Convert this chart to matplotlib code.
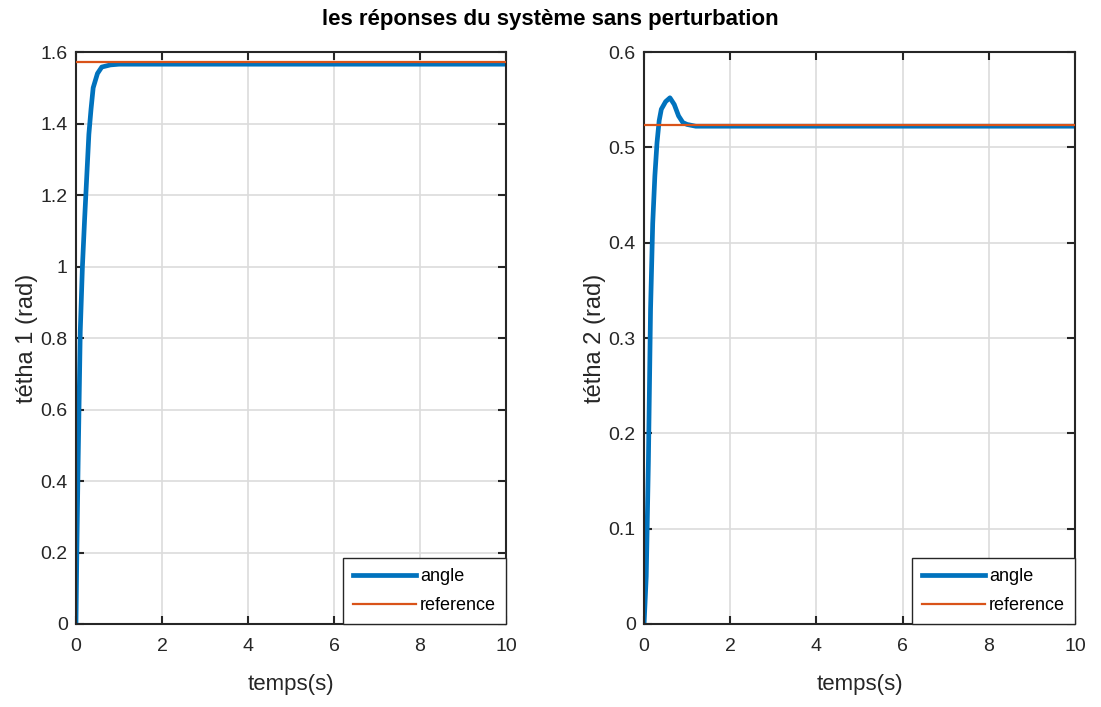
import matplotlib
matplotlib.use("Agg")
import matplotlib.pyplot as plt
import numpy as np

plt.rcParams['font.family'] = ['Liberation Sans', 'DejaVu Sans']

# tetha 1 response (rad)
t1 = [0, 0.02, 0.05, 0.1, 0.15, 0.2, 0.25, 0.3, 0.35, 0.4, 0.5, 0.6, 0.8, 1.0, 10]
y1 = [0, 0.2, 0.45, 0.82, 1.0, 1.13, 1.25, 1.37, 1.44, 1.5, 1.54, 1.558, 1.564, 1.566, 1.566]
ref1 = 1.5708

# tetha 2 response (rad)
t2 = [0, 0.05, 0.1, 0.15, 0.2, 0.25, 0.3, 0.35, 0.4, 0.5, 0.6, 0.7, 0.8, 0.9, 1.0, 1.2, 10]
y2 = [0, 0.05, 0.17, 0.33, 0.42, 0.47, 0.505, 0.528, 0.54, 0.548, 0.552, 0.545, 0.533, 0.526, 0.524, 0.5222, 0.5222]
ref2 = 0.5236

blue = '#0072BD'
orange = '#D95319'

fig = plt.figure(figsize=(11.01, 7.07), dpi=100)
ax1 = fig.add_axes([0.069, 0.1174, 0.3906, 0.809])
ax2 = fig.add_axes([0.585, 0.1174, 0.3914, 0.809])

for ax, t, y, ref, ymax, yt, lab in [
        (ax1, t1, y1, ref1, 1.6, np.arange(0, 1.61, 0.2), 'tétha 1 (rad)'),
        (ax2, t2, y2, ref2, 0.6, np.arange(0, 0.61, 0.1), 'tétha 2 (rad)')]:
    ax.plot(t, y, color=blue, lw=3.4, label='angle', zorder=2)
    ax.plot([0, 10], [ref, ref], color=orange, lw=1.6, label='reference', zorder=3)
    ax.set_xlim(0, 10)
    ax.set_ylim(0, ymax)
    ax.set_xticks(range(0, 11, 2))
    ax.set_yticks(yt)
    ax.set_yticklabels(['%g' % round(v, 1) for v in yt])
    ax.grid(True, color='#dcdcdc', lw=1.2)
    ax.set_axisbelow(True)
    ax.tick_params(direction='in', top=True, right=True, length=6, width=1.5,
                   labelsize=14, colors='#262626')
    ax.tick_params(axis='x', pad=10)
    ax.tick_params(axis='y', pad=6)
    for s in ax.spines.values():
        s.set_linewidth(1.5)
        s.set_color('#262626')
    ax.set_xlabel('temps(s)', fontsize=16, color='#262626', labelpad=14)
    ax.set_ylabel(lab, fontsize=17, color='#262626', labelpad=2)
    leg = ax.legend(loc='lower right', borderaxespad=0, fancybox=False,
                    fontsize=13, handlelength=3.5, handletextpad=0.2,
                    labelspacing=0.65, edgecolor='#262626', framealpha=1,
                    borderpad=0.55)
    leg.get_frame().set_linewidth(1)

fig.text(0.5, 0.972, 'les réponses du système sans perturbation', ha='center',
         va='center', fontsize=16, fontweight='bold')

fig.savefig('out.png', dpi=100)
